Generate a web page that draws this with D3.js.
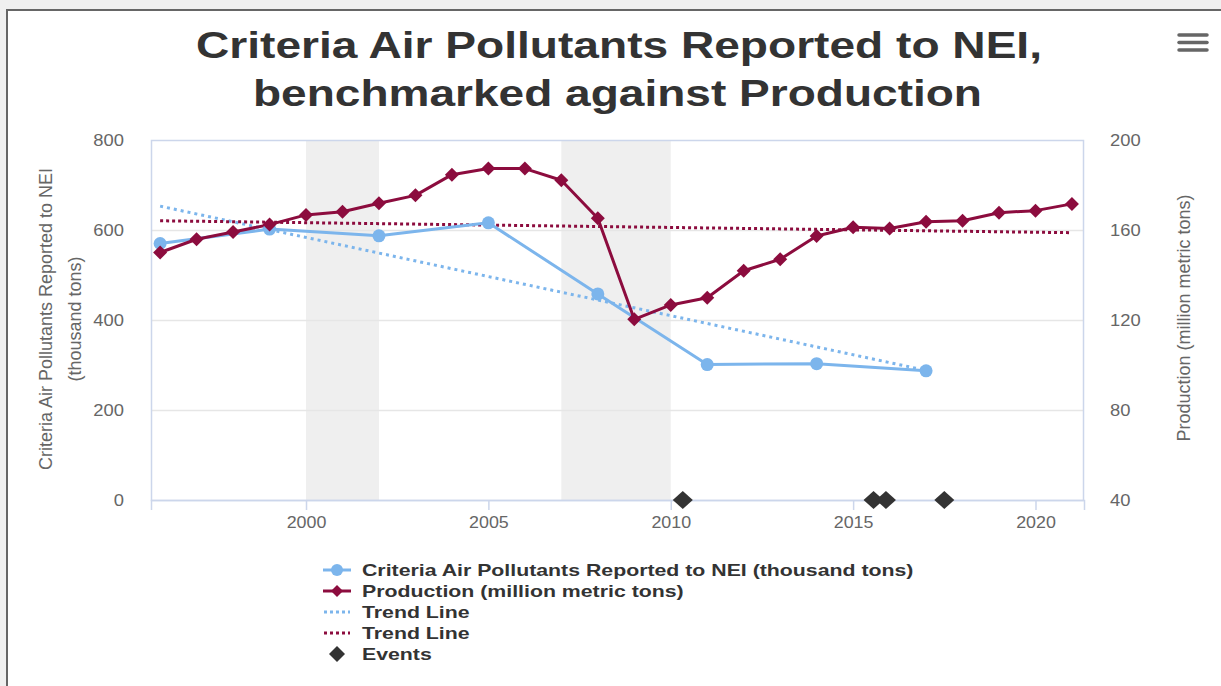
<!DOCTYPE html>
<html><head><meta charset="utf-8">
<script src="https://cdn.jsdelivr.net/npm/d3@7"></script>
<style>html,body{margin:0;padding:0;background:#f0f0f0;}svg{display:block;}</style>
</head><body>
<svg id="c" width="1221" height="686"></svg>
<script>
// ---------- data ----------
const titleLines = ["Criteria Air Pollutants Reported to NEI,", "benchmarked against Production"];
const leftAxisTitle = ["Criteria Air Pollutants Reported to NEI", "(thousand tons)"];
const rightAxisTitle = "Production (million metric tons)";
const xTicks = [2000, 2005, 2010, 2015, 2020];
const leftTicks = [0, 200, 400, 600, 800];
const rightTicks = [40, 80, 120, 160, 200];

const pollYears = [1996, 1999, 2002, 2005, 2008, 2011, 2014, 2017];
const pollValues = [570, 602, 587, 616, 458, 301, 303, 287];

const prodYears = [1996,1997,1998,1999,2000,2001,2002,2003,2004,2005,2006,2007,2008,2009,2010,2011,2012,2013,2014,2015,2016,2017,2018,2019,2020,2021];
const prodValues = [150,155.9,159.1,162.4,166.7,168.1,171.9,175.4,184.6,187.3,187.3,182.1,165.2,120.3,126.7,129.9,141.9,147,157.3,161.2,160.7,163.7,164.1,167.7,168.6,171.6];

const pollTrendYears = [1996, 2017];
const pollTrendValues = [653, 288];
const prodTrendYears = [1996, 2021];
const prodTrendValues = [164.1, 158.8];

const eventYears = [2010.33, 2015.56, 2015.9, 2017.5];

const bandStarts = [2000, 2007];
const bandEnds = [2002, 2010];

const legendLabels = ["Criteria Air Pollutants Reported to NEI (thousand tons)", "Production (million metric tons)", "Trend Line", "Trend Line", "Events"];

// ---------- styles ----------
const BLUE = "#7cb5ec", RED = "#8c0c3e", DARK = "#333333";
const svg = d3.select("#c");
const font = "'Liberation Sans', Arial, sans-serif";

// stretch text horizontally by a factor
function stretch(sel, f) {
  sel.each(function () {
    const w = this.getComputedTextLength();
    d3.select(this).attr("textLength", w * f).attr("lengthAdjust", "spacingAndGlyphs");
  });
}

// frame
svg.append("rect").attr("x", 7).attr("y", 10).attr("width", 1230).attr("height", 690)
  .attr("fill", "#ffffff").attr("stroke", "#666666").attr("stroke-width", 2);

// plot geometry
const L = 151, R = 1084, T = 140, B = 500;
const x = d3.scaleLinear().domain([1995.75, 2021.33]).range([L, R]);
const yL = d3.scaleLinear().domain([0, 800]).range([B, T]);
const yR = d3.scaleLinear().domain([40, 200]).range([B, T]);

// title
const titleWidths = [846, 729];
svg.append("g").selectAll("text").data(titleLines).join("text")
  .attr("x", (d, i) => [619, 617.5][i]).attr("y", (d, i) => [58, 106][i])
  .attr("text-anchor", "middle").attr("font-family", font).attr("font-weight", "bold")
  .attr("font-size", 37).attr("fill", DARK)
  .attr("textLength", (d, i) => titleWidths[i]).attr("lengthAdjust", "spacingAndGlyphs")
  .text(d => d);

// hamburger menu
svg.append("g").selectAll("line").data([0, 1, 2]).join("line")
  .attr("x1", 1179).attr("x2", 1207).attr("y1", d => 35 + d * 7.5).attr("y2", d => 35 + d * 7.5)
  .attr("stroke", "#666").attr("stroke-width", 3.5).attr("stroke-linecap", "round");

// plot bands
svg.append("g").selectAll("rect").data(bandStarts).join("rect")
  .attr("x", d => x(d)).attr("y", T)
  .attr("width", (d, i) => x(bandEnds[i]) - x(d)).attr("height", B - T)
  .attr("fill", "#efefef");

// gridlines
svg.append("g").selectAll("line").data(leftTicks.filter(v => v > 0 && v < 800)).join("line")
  .attr("x1", L).attr("x2", R).attr("y1", d => yL(d) + 0.5).attr("y2", d => yL(d) + 0.5)
  .attr("stroke", "#e6e6e6").attr("stroke-width", 1.5);

// plot border
svg.append("rect").attr("x", L + 0.5).attr("y", T + 0.5).attr("width", R - L - 1).attr("height", B - T)
  .attr("fill", "none").attr("stroke", "#ccd6eb").attr("stroke-width", 1.5);

// x axis
const xAxis = d3.axisBottom(x).tickValues(xTicks).tickFormat(d3.format("d")).tickSize(10).tickPadding(6);
const gx = svg.append("g").attr("transform", `translate(0,${B})`).call(xAxis);
gx.select(".domain").attr("stroke", "#ccd6eb").attr("stroke-width", 1.5);
gx.selectAll(".tick line").attr("stroke", "#ccd6eb").attr("stroke-width", 1.5);
gx.selectAll(".tick text").attr("font-family", font).attr("font-size", 17).attr("fill", "#666");
stretch(gx.selectAll(".tick text"), 1.05);

// left axis
const gyl = svg.append("g").attr("transform", `translate(${L},0)`)
  .call(d3.axisLeft(yL).tickValues(leftTicks).tickSize(0).tickPadding(27));
gyl.select(".domain").remove();
gyl.selectAll(".tick text").attr("font-family", font).attr("font-size", 17).attr("fill", "#666");
stretch(gyl.selectAll(".tick text"), 1.08);

// right axis
const gyr = svg.append("g").attr("transform", `translate(${R},0)`)
  .call(d3.axisRight(yR).tickValues(rightTicks).tickSize(0).tickPadding(26));
gyr.select(".domain").remove();
gyr.selectAll(".tick text").attr("font-family", font).attr("font-size", 17).attr("fill", "#666");
stretch(gyr.selectAll(".tick text"), 1.08);

// axis titles
const cy = (T + B) / 2;
svg.append("g").selectAll("text").data(leftAxisTitle).join("text")
  .attr("transform", (d, i) => `translate(${52 + i * 29},${cy - 1}) rotate(-90)`)
  .attr("text-anchor", "middle").attr("font-family", font).attr("font-size", 18).attr("fill", "#666")
  .text(d => d);
svg.append("text").attr("transform", `translate(1190,${cy - 2}) rotate(-90)`)
  .attr("text-anchor", "middle").attr("font-family", font).attr("font-size", 18).attr("fill", "#666")
  .text(rightAxisTitle);

// trend lines
const line = d3.line();
svg.append("path").attr("d", line(pollTrendYears.map((d, i) => [x(d), yL(pollTrendValues[i])])))
  .attr("fill", "none").attr("stroke", BLUE).attr("stroke-width", 3).attr("stroke-dasharray", "3,4");
svg.append("path").attr("d", line(prodTrendYears.map((d, i) => [x(d), yR(prodTrendValues[i])])))
  .attr("fill", "none").attr("stroke", RED).attr("stroke-width", 3).attr("stroke-dasharray", "3,3");

// pollutant series
svg.append("path").attr("d", line(pollYears.map((d, i) => [x(d), yL(pollValues[i])])))
  .attr("fill", "none").attr("stroke", BLUE).attr("stroke-width", 3).attr("stroke-linejoin", "round");
// production series
svg.append("path").attr("d", line(prodYears.map((d, i) => [x(d), yR(prodValues[i])])))
  .attr("fill", "none").attr("stroke", RED).attr("stroke-width", 3).attr("stroke-linejoin", "round");

const diamond = (cx, cy, rx, ry) => `M${cx},${cy - ry}L${cx + rx},${cy}L${cx},${cy + ry}L${cx - rx},${cy}Z`;

svg.append("g").selectAll("circle").data(pollYears).join("circle")
  .attr("cx", d => x(d)).attr("cy", (d, i) => yL(pollValues[i])).attr("r", 6.5).attr("fill", BLUE);
svg.append("g").selectAll("path").data(prodYears).join("path")
  .attr("d", (d, i) => diamond(x(d), yR(prodValues[i]), 7, 7)).attr("fill", RED);

// events
svg.append("g").selectAll("path").data(eventYears).join("path")
  .attr("d", d => diamond(x(d), B, 10, 9)).attr("fill", DARK);

// legend
const lg = svg.append("g");
const rowY = i => 570 + i * 21;
const lt = lg.selectAll("text").data(legendLabels).join("text")
  .attr("x", 362).attr("y", (d, i) => rowY(i) + 6)
  .attr("font-family", font).attr("font-weight", "bold").attr("font-size", 16.5).attr("fill", DARK)
  .text(d => d);
stretch(lt, 1.29);
lg.append("line").attr("x1", 323).attr("x2", 351).attr("y1", rowY(0)).attr("y2", rowY(0)).attr("stroke", BLUE).attr("stroke-width", 3);
lg.append("circle").attr("cx", 337).attr("cy", rowY(0)).attr("r", 6).attr("fill", BLUE);
lg.append("line").attr("x1", 323).attr("x2", 351).attr("y1", rowY(1)).attr("y2", rowY(1)).attr("stroke", RED).attr("stroke-width", 3);
lg.append("path").attr("d", diamond(337, rowY(1), 6, 6)).attr("fill", RED);
lg.append("line").attr("x1", 324).attr("x2", 350).attr("y1", rowY(2)).attr("y2", rowY(2)).attr("stroke", BLUE).attr("stroke-width", 3).attr("stroke-dasharray", "3,3");
lg.append("line").attr("x1", 324).attr("x2", 350).attr("y1", rowY(3)).attr("y2", rowY(3)).attr("stroke", RED).attr("stroke-width", 3).attr("stroke-dasharray", "3,3");
lg.append("path").attr("d", diamond(337, rowY(4), 8, 8)).attr("fill", DARK);
</script>
</body></html>
